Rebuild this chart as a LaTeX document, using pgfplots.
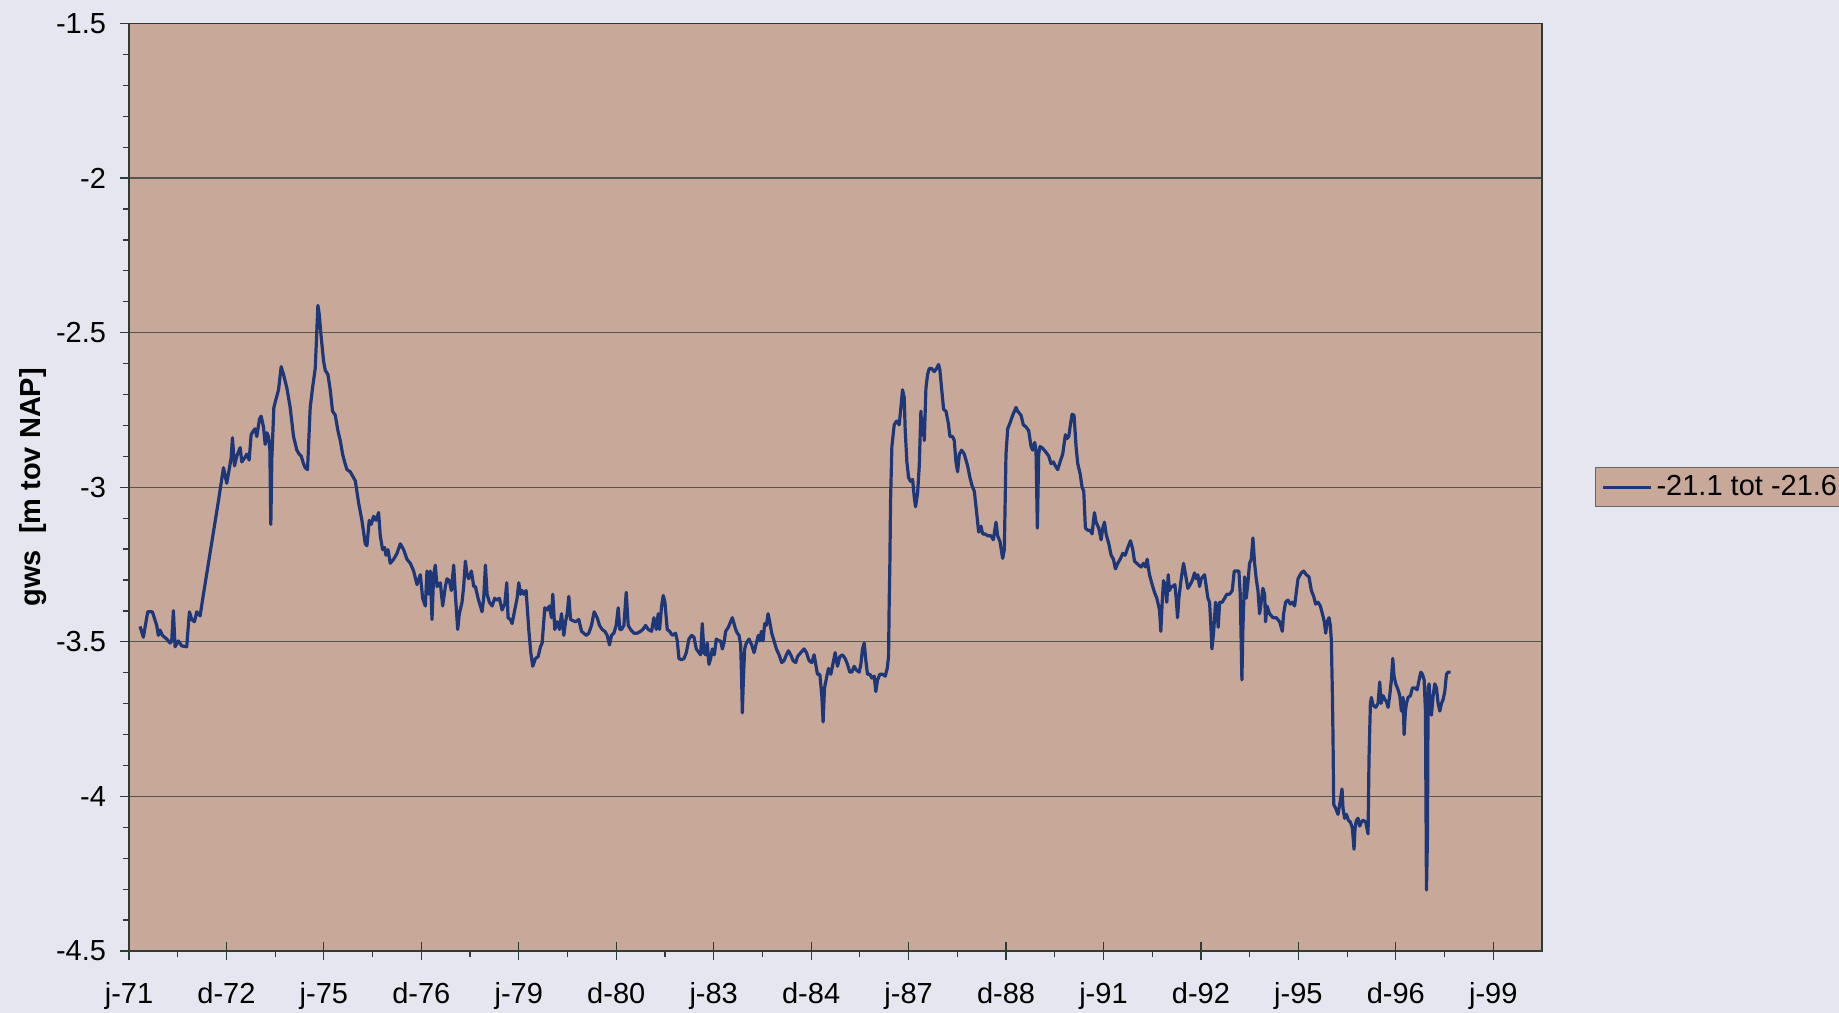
\documentclass[border=0pt]{standalone}
\usepackage{fontspec}
\setmainfont{Liberation Sans}
\usepackage{pgfplots}
\pgfplotsset{compat=1.18}
\definecolor{pagebg}{RGB}{230,230,240}
\definecolor{plotbg}{RGB}{200,168,153}
\definecolor{series}{RGB}{30,55,120}
\definecolor{gridc}{RGB}{85,85,80}
\definecolor{axisc}{RGB}{45,60,55}
\newcommand\cf{\fontsize{14.5bp}{17bp}\selectfont}
\begin{document}
\begin{tikzpicture}
\path[use as bounding box, fill=pagebg] (-64.5bp,-31bp) rectangle (855bp,475.5bp);
\begin{axis}[
  at={(0,0)}, anchor=south west,
  scale only axis, width=706.5bp, height=463.75bp,
  xmin=1971, xmax=2000, ymin=-4.5, ymax=-1.5,
  axis background/.style={fill=plotbg},
  xtick={1971,1973,1975,1977,1979,1981,1983,1985,1987,1989,1991,1993,1995,1997,1999},
  xticklabels={j-71,d-72,j-75,d-76,j-79,d-80,j-83,d-84,j-87,d-88,j-91,d-92,j-95,d-96,j-99},
  extra x ticks={1973,1975,1977,1979,1981,1983,1985,1987,1989,1991,1993,1995,1997,1999},
  extra x tick labels={},
  extra x tick style={tick align=inside, major tick length=4.5bp},
  minor x tick num=1,
  ytick={-4.5,-4,-3.5,-3,-2.5,-2,-1.5},
  yticklabels={-4.5,-4,-3.5,-3,-2.5,-2,-1.5},
  minor y tick num=4,
  ymajorgrids, major grid style={gridc, line width=0.6bp},
  tick align=outside, major tick length=4.5bp, minor tick length=3.2bp,
  tick style={axisc, line width=0.6bp},
  axis line style={axisc, line width=0.9bp},
  xtick pos=bottom, ytick pos=left,
  tick label style={font=\cf},
  xticklabel style={yshift=-7.5bp},
  yticklabel style={xshift=-3.5bp},
  ylabel={gws~~[m tov NAP]},
  ylabel style={font=\cf\bfseries, at={(axis description cs:-0.068,0.5)}, anchor=center},
  legend style={at={(1.0375,0.5)}, anchor=west, draw=gray!80!black, fill=plotbg, font=\cf, inner xsep=3bp, inner ysep=2bp},
  legend cell align=left,
  legend image code/.code={\draw[#1] (0bp,0bp) -- (24bp,0bp);},
]
\addplot[series, line width=1.6bp, line join=round] table {
x y
1971.226 -3.450
1971.295 -3.485
1971.384 -3.403
1971.480 -3.403
1971.569 -3.447
1971.603 -3.479
1971.637 -3.462
1971.685 -3.479
1971.774 -3.491
1971.843 -3.504
1971.877 -3.497
1971.911 -3.399
1971.945 -3.516
1972.014 -3.497
1972.082 -3.513
1972.185 -3.516
1972.240 -3.403
1972.288 -3.428
1972.343 -3.435
1972.391 -3.403
1972.459 -3.416
1972.528 -3.346
1972.630 -3.246
1972.733 -3.145
1972.836 -3.044
1972.939 -2.937
1972.973 -2.962
1973.007 -2.987
1973.055 -2.943
1973.096 -2.906
1973.123 -2.840
1973.165 -2.931
1973.213 -2.899
1973.281 -2.872
1973.315 -2.918
1973.370 -2.906
1973.418 -2.893
1973.466 -2.912
1973.507 -2.830
1973.555 -2.817
1973.589 -2.811
1973.623 -2.836
1973.678 -2.780
1973.712 -2.770
1973.760 -2.805
1973.795 -2.861
1973.829 -2.824
1973.863 -2.836
1973.891 -2.880
1973.911 -3.120
1973.932 -2.906
1973.973 -2.742
1974.014 -2.717
1974.069 -2.685
1974.123 -2.610
1974.171 -2.635
1974.240 -2.679
1974.308 -2.742
1974.377 -2.836
1974.445 -2.880
1974.493 -2.893
1974.534 -2.899
1974.582 -2.924
1974.617 -2.937
1974.664 -2.943
1974.719 -2.742
1974.767 -2.679
1974.822 -2.616
1974.856 -2.490
1974.877 -2.412
1974.904 -2.440
1974.945 -2.515
1974.993 -2.591
1975.028 -2.622
1975.082 -2.635
1975.130 -2.685
1975.178 -2.754
1975.233 -2.767
1975.288 -2.817
1975.336 -2.849
1975.384 -2.893
1975.425 -2.918
1975.473 -2.943
1975.541 -2.950
1975.644 -2.979
1975.712 -3.050
1975.780 -3.107
1975.849 -3.183
1975.883 -3.189
1975.931 -3.107
1975.972 -3.120
1976.020 -3.094
1976.068 -3.107
1976.123 -3.082
1976.157 -3.157
1976.205 -3.202
1976.246 -3.195
1976.274 -3.220
1976.315 -3.202
1976.363 -3.246
1976.431 -3.233
1976.500 -3.214
1976.568 -3.183
1976.637 -3.202
1976.705 -3.233
1976.774 -3.246
1976.842 -3.271
1976.911 -3.315
1976.979 -3.283
1977.027 -3.359
1977.082 -3.384
1977.116 -3.271
1977.150 -3.346
1977.185 -3.271
1977.219 -3.428
1977.253 -3.283
1977.287 -3.252
1977.322 -3.321
1977.390 -3.309
1977.438 -3.384
1977.493 -3.321
1977.527 -3.296
1977.575 -3.302
1977.616 -3.334
1977.664 -3.252
1977.698 -3.346
1977.746 -3.460
1977.780 -3.409
1977.835 -3.372
1977.869 -3.321
1977.904 -3.239
1977.938 -3.283
1977.972 -3.296
1978.027 -3.271
1978.075 -3.321
1978.109 -3.321
1978.164 -3.359
1978.246 -3.403
1978.280 -3.359
1978.315 -3.252
1978.349 -3.346
1978.397 -3.372
1978.452 -3.384
1978.506 -3.359
1978.554 -3.365
1978.602 -3.359
1978.657 -3.397
1978.712 -3.378
1978.753 -3.309
1978.780 -3.422
1978.828 -3.428
1978.863 -3.441
1978.917 -3.397
1978.965 -3.359
1979.000 -3.309
1979.034 -3.346
1979.068 -3.334
1979.102 -3.346
1979.150 -3.334
1979.205 -3.460
1979.246 -3.535
1979.287 -3.579
1979.342 -3.554
1979.397 -3.548
1979.445 -3.516
1979.479 -3.504
1979.534 -3.390
1979.582 -3.397
1979.630 -3.384
1979.671 -3.422
1979.698 -3.346
1979.739 -3.460
1979.787 -3.435
1979.836 -3.460
1979.877 -3.409
1979.925 -3.479
1979.959 -3.435
1979.993 -3.409
1980.027 -3.353
1980.062 -3.428
1980.164 -3.435
1980.232 -3.428
1980.287 -3.466
1980.335 -3.472
1980.383 -3.479
1980.437 -3.472
1980.492 -3.447
1980.547 -3.403
1980.609 -3.422
1980.657 -3.447
1980.711 -3.460
1980.766 -3.466
1980.814 -3.479
1980.862 -3.510
1980.903 -3.479
1980.951 -3.472
1980.999 -3.447
1981.040 -3.390
1981.074 -3.460
1981.109 -3.460
1981.157 -3.447
1981.205 -3.340
1981.246 -3.447
1981.294 -3.460
1981.362 -3.472
1981.431 -3.472
1981.499 -3.466
1981.547 -3.460
1981.602 -3.447
1981.657 -3.460
1981.725 -3.466
1981.773 -3.422
1981.821 -3.460
1981.862 -3.409
1981.890 -3.460
1981.931 -3.384
1981.965 -3.350
1981.999 -3.372
1982.047 -3.460
1982.095 -3.466
1982.150 -3.479
1982.218 -3.472
1982.253 -3.497
1982.287 -3.554
1982.342 -3.558
1982.390 -3.554
1982.438 -3.535
1982.492 -3.491
1982.547 -3.479
1982.595 -3.485
1982.643 -3.523
1982.698 -3.535
1982.732 -3.542
1982.766 -3.441
1982.801 -3.535
1982.835 -3.542
1982.869 -3.504
1982.903 -3.573
1982.938 -3.554
1982.972 -3.523
1983.013 -3.542
1983.054 -3.491
1983.109 -3.497
1983.143 -3.497
1983.177 -3.523
1983.211 -3.504
1983.246 -3.466
1983.300 -3.453
1983.348 -3.435
1983.383 -3.422
1983.417 -3.441
1983.451 -3.460
1983.485 -3.472
1983.520 -3.479
1983.554 -3.510
1983.574 -3.623
1983.588 -3.730
1983.609 -3.623
1983.636 -3.523
1983.670 -3.504
1983.725 -3.491
1983.780 -3.510
1983.828 -3.535
1983.876 -3.504
1983.917 -3.479
1983.944 -3.497
1983.979 -3.466
1984.013 -3.497
1984.047 -3.441
1984.081 -3.447
1984.116 -3.409
1984.150 -3.435
1984.191 -3.472
1984.239 -3.497
1984.287 -3.523
1984.342 -3.542
1984.396 -3.567
1984.444 -3.561
1984.492 -3.542
1984.533 -3.529
1984.581 -3.542
1984.629 -3.561
1984.684 -3.567
1984.719 -3.548
1984.787 -3.535
1984.856 -3.523
1984.904 -3.535
1984.958 -3.561
1985.013 -3.567
1985.061 -3.542
1985.095 -3.573
1985.130 -3.605
1985.178 -3.605
1985.219 -3.674
1985.246 -3.759
1985.274 -3.649
1985.315 -3.617
1985.356 -3.586
1985.404 -3.605
1985.438 -3.579
1985.493 -3.535
1985.541 -3.579
1985.589 -3.548
1985.643 -3.542
1985.698 -3.554
1985.746 -3.573
1985.794 -3.598
1985.835 -3.598
1985.883 -3.579
1985.931 -3.592
1985.986 -3.598
1986.020 -3.573
1986.054 -3.523
1986.089 -3.504
1986.123 -3.561
1986.157 -3.605
1986.205 -3.605
1986.246 -3.617
1986.294 -3.611
1986.328 -3.661
1986.363 -3.623
1986.411 -3.605
1986.465 -3.605
1986.520 -3.611
1986.561 -3.586
1986.589 -3.548
1986.602 -3.372
1986.616 -3.246
1986.630 -3.044
1986.657 -2.868
1986.705 -2.798
1986.753 -2.786
1986.808 -2.798
1986.842 -2.742
1986.876 -2.685
1986.910 -2.710
1986.931 -2.817
1986.965 -2.918
1987.000 -2.969
1987.041 -2.981
1987.082 -2.975
1987.116 -3.031
1987.143 -3.063
1987.185 -3.019
1987.219 -2.931
1987.253 -2.754
1987.274 -2.830
1987.301 -2.780
1987.322 -2.849
1987.356 -2.679
1987.390 -2.635
1987.424 -2.616
1987.472 -2.616
1987.527 -2.626
1987.575 -2.616
1987.616 -2.603
1987.643 -2.622
1987.684 -2.691
1987.719 -2.748
1987.767 -2.754
1987.815 -2.792
1987.849 -2.836
1987.904 -2.836
1987.938 -2.849
1987.972 -2.918
1988.006 -2.950
1988.041 -2.893
1988.089 -2.880
1988.143 -2.893
1988.212 -2.931
1988.260 -2.969
1988.301 -2.994
1988.349 -3.013
1988.397 -3.082
1988.438 -3.145
1988.486 -3.126
1988.520 -3.151
1988.568 -3.151
1988.623 -3.157
1988.691 -3.157
1988.739 -3.170
1988.794 -3.113
1988.828 -3.157
1988.876 -3.176
1988.931 -3.230
1988.965 -3.202
1988.999 -2.893
1989.034 -2.811
1989.082 -2.792
1989.137 -2.767
1989.205 -2.742
1989.239 -2.754
1989.307 -2.767
1989.355 -2.798
1989.410 -2.805
1989.465 -2.817
1989.513 -2.868
1989.547 -2.880
1989.588 -2.855
1989.615 -2.880
1989.643 -3.132
1989.670 -2.893
1989.698 -2.868
1989.752 -2.874
1989.821 -2.887
1989.876 -2.899
1989.924 -2.924
1989.972 -2.918
1990.013 -2.931
1990.061 -2.943
1990.109 -2.918
1990.163 -2.893
1990.218 -2.830
1990.246 -2.843
1990.287 -2.836
1990.321 -2.798
1990.355 -2.764
1990.396 -2.767
1990.437 -2.868
1990.472 -2.924
1990.520 -2.956
1990.561 -3.000
1990.595 -3.013
1990.629 -3.132
1990.677 -3.139
1990.725 -3.139
1990.766 -3.151
1990.814 -3.082
1990.848 -3.113
1990.903 -3.132
1990.951 -3.170
1990.985 -3.132
1991.020 -3.113
1991.054 -3.151
1991.109 -3.183
1991.157 -3.220
1991.204 -3.233
1991.246 -3.264
1991.293 -3.246
1991.341 -3.233
1991.396 -3.214
1991.444 -3.220
1991.499 -3.195
1991.554 -3.173
1991.602 -3.202
1991.636 -3.239
1991.684 -3.246
1991.725 -3.252
1991.773 -3.258
1991.821 -3.246
1991.862 -3.258
1991.896 -3.233
1991.944 -3.283
1991.999 -3.315
1992.047 -3.340
1992.095 -3.359
1992.150 -3.397
1992.177 -3.466
1992.205 -3.372
1992.232 -3.302
1992.273 -3.321
1992.300 -3.372
1992.328 -3.283
1992.355 -3.334
1992.389 -3.321
1992.424 -3.321
1992.465 -3.315
1992.492 -3.359
1992.520 -3.422
1992.547 -3.359
1992.595 -3.296
1992.643 -3.246
1992.684 -3.283
1992.732 -3.327
1992.780 -3.315
1992.821 -3.302
1992.869 -3.277
1992.903 -3.296
1992.937 -3.283
1992.972 -3.321
1993.006 -3.296
1993.074 -3.283
1993.109 -3.321
1993.143 -3.359
1993.177 -3.372
1993.204 -3.447
1993.225 -3.523
1993.259 -3.472
1993.300 -3.372
1993.328 -3.397
1993.355 -3.453
1993.383 -3.372
1993.437 -3.372
1993.485 -3.359
1993.533 -3.346
1993.588 -3.346
1993.643 -3.334
1993.684 -3.271
1993.725 -3.271
1993.779 -3.271
1993.807 -3.346
1993.841 -3.623
1993.861 -3.460
1993.896 -3.290
1993.930 -3.359
1993.964 -3.309
1993.998 -3.246
1994.033 -3.233
1994.067 -3.164
1994.101 -3.246
1994.135 -3.296
1994.170 -3.334
1994.204 -3.409
1994.238 -3.372
1994.272 -3.327
1994.307 -3.346
1994.327 -3.435
1994.355 -3.384
1994.409 -3.409
1994.478 -3.422
1994.546 -3.422
1994.615 -3.435
1994.670 -3.466
1994.697 -3.409
1994.738 -3.372
1994.786 -3.365
1994.834 -3.378
1994.875 -3.372
1994.923 -3.384
1994.957 -3.340
1994.992 -3.296
1995.060 -3.277
1995.108 -3.271
1995.163 -3.283
1995.218 -3.290
1995.266 -3.334
1995.314 -3.353
1995.355 -3.378
1995.403 -3.372
1995.451 -3.384
1995.492 -3.409
1995.533 -3.435
1995.560 -3.472
1995.594 -3.435
1995.629 -3.422
1995.656 -3.447
1995.677 -3.497
1995.697 -3.661
1995.711 -3.812
1995.725 -4.026
1995.766 -4.039
1995.813 -4.058
1995.861 -4.014
1995.896 -3.976
1995.916 -4.039
1995.950 -4.071
1995.985 -4.058
1996.026 -4.077
1996.067 -4.083
1996.108 -4.102
1996.142 -4.171
1996.163 -4.102
1996.190 -4.077
1996.225 -4.071
1996.259 -4.096
1996.293 -4.083
1996.327 -4.077
1996.382 -4.083
1996.430 -4.121
1996.450 -3.875
1996.478 -3.699
1996.498 -3.680
1996.533 -3.705
1996.587 -3.712
1996.635 -3.699
1996.670 -3.630
1996.697 -3.699
1996.738 -3.674
1996.772 -3.686
1996.807 -3.693
1996.841 -3.712
1996.875 -3.674
1996.909 -3.623
1996.937 -3.554
1996.964 -3.611
1996.998 -3.636
1997.046 -3.655
1997.081 -3.674
1997.115 -3.724
1997.149 -3.680
1997.170 -3.800
1997.197 -3.724
1997.218 -3.699
1997.252 -3.680
1997.300 -3.674
1997.341 -3.649
1997.389 -3.649
1997.437 -3.655
1997.478 -3.623
1997.512 -3.598
1997.546 -3.605
1997.581 -3.623
1997.608 -3.724
1997.629 -4.303
1997.649 -4.127
1997.663 -3.649
1997.683 -3.636
1997.711 -3.724
1997.731 -3.737
1997.766 -3.674
1997.800 -3.636
1997.834 -3.649
1997.868 -3.699
1997.903 -3.724
1997.937 -3.699
1997.971 -3.686
1998.005 -3.661
1998.039 -3.605
1998.074 -3.598
1998.122 -3.598
};
\addlegendentry{-21.1 tot -21.6}
\end{axis}
\end{tikzpicture}
\end{document}
